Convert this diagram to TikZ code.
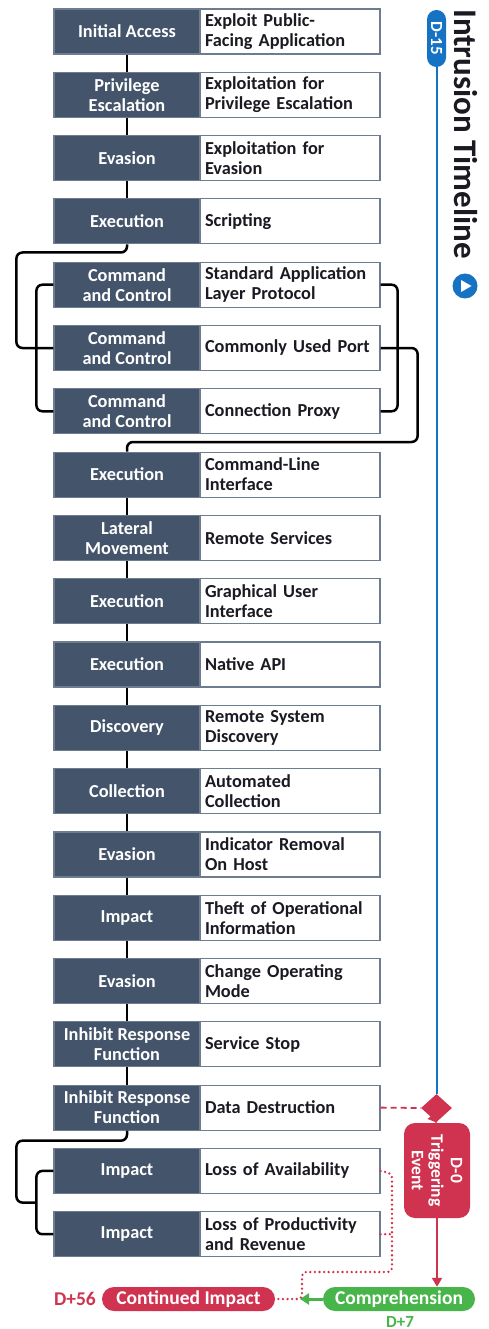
\documentclass[tikz,border=0pt]{standalone}
\usepackage{fontspec}
\setmainfont{Carlito}
\usetikzlibrary{shapes.geometric,calc,arrows.meta}
\definecolor{slate}{HTML}{44546A}
\definecolor{boxline}{HTML}{6E7C90}
\definecolor{txt}{HTML}{1A1A22}
\definecolor{tblue}{HTML}{1673C4}
\definecolor{tred}{HTML}{CF3350}
\definecolor{tgreen}{HTML}{48B54A}
\tikzset{
  tact/.style={draw=boxline, line width=1.2pt, fill=slate, text=white,
    minimum width=146pt, minimum height=45pt, inner sep=0pt, align=center,
    font=\bfseries\fontsize{18.3}{20}\selectfont},
  ttech/.style={draw=boxline, line width=1.2pt, fill=white, text=txt,
    minimum width=180pt, minimum height=45pt, text width=170pt, inner xsep=5pt,
    inner ysep=0pt, align=left, font=\bfseries\fontsize{18.3}{20}\selectfont},
  conn/.style={line width=2.5pt, black, rounded corners=6pt},
  pill/.style={text=white, inner sep=0pt, font=\bfseries\fontsize{19.5}{20}\selectfont},
  dots/.style={tred, line width=2.6pt, line cap=round, dash pattern=on 0pt off 4.6pt},
}
\begin{document}
\begin{tikzpicture}[x=1pt,y=-1pt]
\useasboundingbox (0,0) rectangle (488,1329);
\foreach \i/\a/\b in {
 0/{Initial Access}/{Exploit Public-\\Facing Application},
 1/{Privilege\\Escalation}/{Exploitation for\\Privilege Escalation},
 2/{Evasion}/{Exploitation for\\Evasion},
 3/{Execution}/{Scripting},
 4/{Command\\and Control}/{Standard Application\\Layer Protocol},
 5/{Command\\and Control}/{Commonly Used Port},
 6/{Command\\and Control}/{Connection Proxy},
 7/{Execution}/{Command-Line\\Interface},
 8/{Lateral\\Movement}/{Remote Services},
 9/{Execution}/{Graphical User\\Interface},
 10/{Execution}/{Native API},
 11/{Discovery}/{Remote System\\Discovery},
 12/{Collection}/{Automated\\Collection},
 13/{Evasion}/{Indicator Removal\\On Host},
 14/{Impact}/{Theft of Operational\\Information},
 15/{Evasion}/{Change Operating\\Mode},
 16/{Inhibit Response\\Function}/{Service Stop},
 17/{Inhibit Response\\Function}/{Data Destruction},
 18/{Impact}/{Loss of Availability},
 19/{Impact}/{Loss of Productivity\\and Revenue}}{
  \pgfmathsetmacro\yy{31.5+63.3*\i}
  \node[tact] (d\i) at (127,\yy) {\a};
  \node[ttech] (w\i) at (290,\yy) {\b};
}
% straight connectors
\foreach \i/\j in {0/1,1/2,2/3,7/8,8/9,9/10,10/11,11/12,12/13,13/14,14/15,15/16,16/17}{
  \draw[conn] (d\i.south) -- (d\j.north);
}
% loops
\draw[conn] (d3.south) -- ++(0,8) -| ($(d5.west)+(-37,0)$) -- (d5.west);
\draw[conn] (d4.west) -- ++(-17,0) |- (d6.west);
\draw[conn] (w4.east) -- ++(17,0) |- (w6.east);
\draw[conn] (w5.east) -- ++(37,0) |- ($(d7.north)+(0,-9.5)$) -- (d7.north);
\coordinate (fork) at ($(d18.west)!0.5!(d19.west)+(-17,0)$);
\draw[conn] (d17.south) -- ++(0,10) -| ($(fork)+(-20,0)$) -- (fork);
\draw[conn] (d18.west) -- ++(-17,0) |- (d19.west);
% title
\node[rotate=-90, text=txt, font=\bfseries\fontsize{33}{33}\selectfont, anchor=west, inner sep=0pt] (title) at (466,9) {Intrusion Timeline};
\node[circle, fill=tblue, minimum size=25pt, inner sep=0pt] (play) at (465,286) {};
\fill[white] ($(play)+(-4,-6)$) -- ($(play)+(6.5,0)$) -- ($(play)+(-4,6)$) -- cycle;
% timeline
\node[pill, fill=tblue, rotate=-90, minimum width=57pt, minimum height=19pt, rounded corners=9.5pt, font=\bfseries\fontsize{17}{17}\selectfont] (p15) at (436.5,38.5) {D-15};
\node[diamond, fill=tred, minimum width=31pt, minimum height=28pt, inner sep=0pt] (dia) at (436.5,1108) {};
\draw[tblue, line width=2pt] (p15.east) -- (dia.north);
\draw[tred, line width=1.8pt, dash pattern=on 6pt off 4pt] (w17.east) -- (dia.west);
\node[rotate=-90, fill=tred, rounded corners=11pt, minimum width=95pt, minimum height=66pt, text=white, align=center, inner sep=0pt, font=\bfseries\fontsize{17.5}{19.5}\selectfont] (trig) at (437,1170.5) {D-0\\Triggering\\Event};
\node[pill, fill=tgreen, minimum width=152pt, minimum height=24pt, rounded corners=12pt] (comp) at (399,1299) {Comprehension};
\node[pill, fill=tred, minimum width=173pt, minimum height=24pt, rounded corners=12pt] (cont) at (188.5,1299) {Continued Impact};
\node[text=tred, anchor=east, inner sep=0pt, font=\bfseries\fontsize{19.5}{20}\selectfont] (d56) at (96,1299) {D+56};
\node[text=tgreen, anchor=north, inner sep=0pt, font=\bfseries\fontsize{17}{18}\selectfont] (d7) at (400,1316) {D+7};
\draw[tred, line width=2pt, -{Triangle[length=9pt,width=9pt]}] (dia.south) -- (trig.west);
\draw[tred, line width=2pt, -{Triangle[length=9pt,width=10pt]}] (trig.east) -- (trig.east |- comp.north);
\coordinate (gtip) at (300,1299);
\draw[tgreen, line width=3pt, -{Triangle[length=9pt,width=11pt]}] (comp.west) -- (gtip);
\coordinate (c1) at (392,1173.5);
\coordinate (c2) at (392,1272);
\coordinate (c3) at (302,1272);
\draw[dots, rounded corners=4pt] (w18.east) -- (c1) -- (c2) -- (c3) |- (cont.east);
\draw[dots] (w19.east) -- (w19.east -| c1);
\end{tikzpicture}
\end{document}
